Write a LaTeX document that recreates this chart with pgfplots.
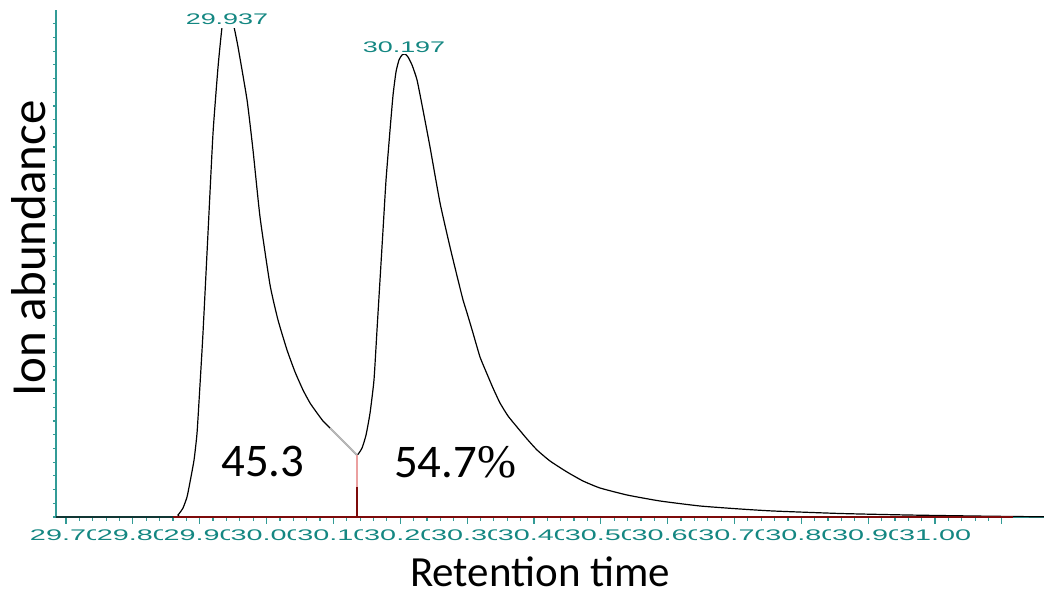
\documentclass[border=0pt]{standalone}
\usepackage{fontspec}
\setmainfont{Carlito}
\newfontfamily\tickfont[FakeStretch=1.87]{Liberation Sans}
\newfontfamily\peakfont[FakeStretch=1.75]{Liberation Sans}
\newfontfamily\pctfont{Liberation Serif}
\usepackage{pgfplots}
\pgfplotsset{compat=1.18}
\usetikzlibrary{calc}
\definecolor{tealtxt}{RGB}{20,135,130}
\definecolor{tealax}{RGB}{50,155,150}
\definecolor{darkred}{RGB}{125,10,10}
\definecolor{pinkdrop}{RGB}{235,160,160}
\begin{document}
\begin{tikzpicture}
\begin{axis}[
  scale only axis, width=494pt, height=253.5pt,
  xmin=29.685, xmax=31.163, ymin=0, ymax=507,
  axis x line=bottom, axis y line=left,
  axis line style={-, tealax, line width=0.6pt},
  tick align=outside,
  xtick={29.7,29.8,29.9,30.0,30.1,30.2,30.3,30.4,30.5,30.6,30.7,30.8,30.9,31.0,31.1},
  xticklabels={29.70,29.80,29.90,30.00,30.10,30.20,30.30,30.40,30.50,30.60,30.70,30.80,30.90,31.00,{}},
  minor x tick num=4,
  major tick length=3.5pt, minor tick length=2pt,
  tick style={tealax, line width=0.6pt},
  xticklabel style={font=\tickfont\fontsize{7.7}{8}\selectfont, text=tealtxt, fill=white, inner xsep=0.5pt, inner ysep=0.5pt, yshift=-2pt},
  ytick={0,13.7,27.4,41.1,54.8,68.5,82.2,95.9,109.6,123.3,137,150.7,164.4,178.1,191.8,205.5,219.2,232.9,246.6,260.3,274,287.7,301.4,315.1,328.8,342.5,356.2,369.9,383.6,397.3,411,424.7,438.4,452.1,465.8,479.5,493.2},
  yticklabels={},
  ytick style={/pgfplots/major tick length=1.5pt},
  clip=false,
]
\addplot[black, line width=0.6pt, smooth, tension=0.3] table {
x y
29.6850 0
29.8601 0
29.8675 2
29.8750 9
29.8810 20
29.8855 35
29.8915 57
29.8960 84
29.9004 132
29.9049 184
29.9124 284
29.9199 384
29.9274 450
29.9334 490
29.9378 499
29.9423 501
29.9468 499
29.9513 490
29.9573 470
29.9708 417
29.9797 367
29.9902 300
30.0052 232
30.0171 197
30.0306 167
30.0426 145
30.0545 127
30.0650 114
30.0755 104
30.0844 96
30.0949 89
30.1099 79
30.1248 69
30.1353 62
30.1428 69
30.1488 82
30.1548 104
30.1607 137
30.1652 187
30.1697 237
30.1742 287
30.1787 337
30.1847 387
30.1892 422
30.1936 445
30.1981 457
30.2026 462
30.2071 463
30.2116 460
30.2176 452
30.2251 437
30.2340 407
30.2445 370
30.2595 314
30.2744 270
30.2864 237
30.2939 217
30.2999 204
30.3088 184
30.3193 160
30.3298 143
30.3387 129
30.3492 114
30.3612 101
30.3746 90
30.3896 78
30.4046 67
30.4240 56
30.4494 45
30.4734 36
30.4988 29
30.5392 22
30.5886 16
30.6484 11
30.7082 8
30.7576 6
30.8578 3.5
30.9580 2
31.0568 1
31.1166 0.5
31.1630 0.2
};
\addplot[color={rgb,255:red,185;green,185;blue,185}, line width=1pt] table {
x y
30.0949 89
30.1099 79
30.1248 69
30.1353 62
};
\addplot[darkred, line width=0.6pt] coordinates {(29.8601,0) (31.1166,0)};
\addplot[pinkdrop, line width=1pt] coordinates {(30.1353,62) (30.1353,30)};
\addplot[darkred, line width=0.6pt] coordinates {(30.1353,30) (30.1353,0)};
\node[fill=white, inner xsep=0.8pt, inner ysep=2pt, text=tealtxt, font=\peakfont\fontsize{7.7}{8}\selectfont] at (axis cs:29.9408,498) {29.937};
\node[fill=white, inner sep=0.8pt, text=tealtxt, font=\peakfont\fontsize{7.7}{8}\selectfont] at (axis cs:30.2056,470) {30.197};
\node[font=\fontsize{23.4}{26}\selectfont] at (axis cs:29.9947,55) {45.3};
\node[font=\fontsize{23.4}{26}\selectfont] at (axis cs:30.2819,55) {54.7{\pctfont\%}};
\end{axis}
\node[rotate=90, font=\fontsize{24.5}{27}\selectfont] at ($(current axis.south west)+(-13.5pt,134.4pt)$) {Ion abundance};
\node[font=\fontsize{21.5}{24}\selectfont] at ($(current axis.south west)+(242pt,-27.5pt)$) {Retention time};
\pgfresetboundingbox
\path[use as bounding box] ($(current axis.south west)+(-28pt,-40.5pt)$) rectangle ($(current axis.north east)+(0pt,5pt)$);
\end{tikzpicture}
\end{document}
